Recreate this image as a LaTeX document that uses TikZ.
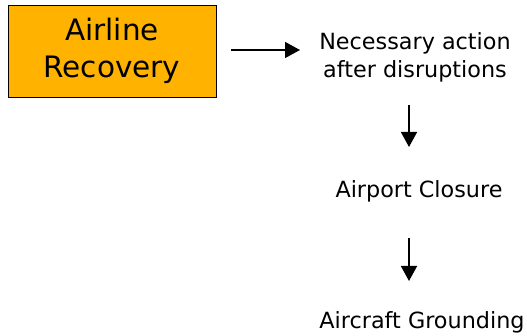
\documentclass[tikz,border=0pt]{standalone}
\usepackage{fontspec}
\setmainfont{DejaVu Sans}
\usetikzlibrary{arrows.meta}
\definecolor{boxorange}{HTML}{FFB300}
\begin{document}
\begin{tikzpicture}[x=1pt,y=1pt,
  lbl/.style={font=\fontsize{22.3}{28}\selectfont, align=center, inner sep=0pt},
  conn/.style={line width=1.5pt, -{Triangle[length=15pt,width=16pt]}}]
\useasboundingbox (0,0) rectangle (527,-336);
\node[draw=black, line width=0.8pt, fill=boxorange, minimum width=208pt, minimum height=92pt,
  inner sep=0pt, align=center, font=\fontsize{29.5}{37}\selectfont] (ar) at (112,-51) {Airline\\Recovery};
\node[lbl] (na) at (415,-57) {Necessary action\\after disruptions};
\node[lbl] (ac) at (419,-191) {Airport Closure};
\node[lbl] (ag) at (422,-322) {Aircraft Grounding};
\coordinate (a1s) at (231,-50);
\coordinate (a1e) at (300,-50);
\coordinate (a2s) at (409,-105);
\coordinate (a2e) at (409,-147);
\coordinate (a3s) at (409,-238);
\coordinate (a3e) at (409,-281);
\draw[conn] (a1s) -- (a1e);
\draw[conn] (a2s) -- (a2e);
\draw[conn] (a3s) -- (a3e);
\end{tikzpicture}
\end{document}
